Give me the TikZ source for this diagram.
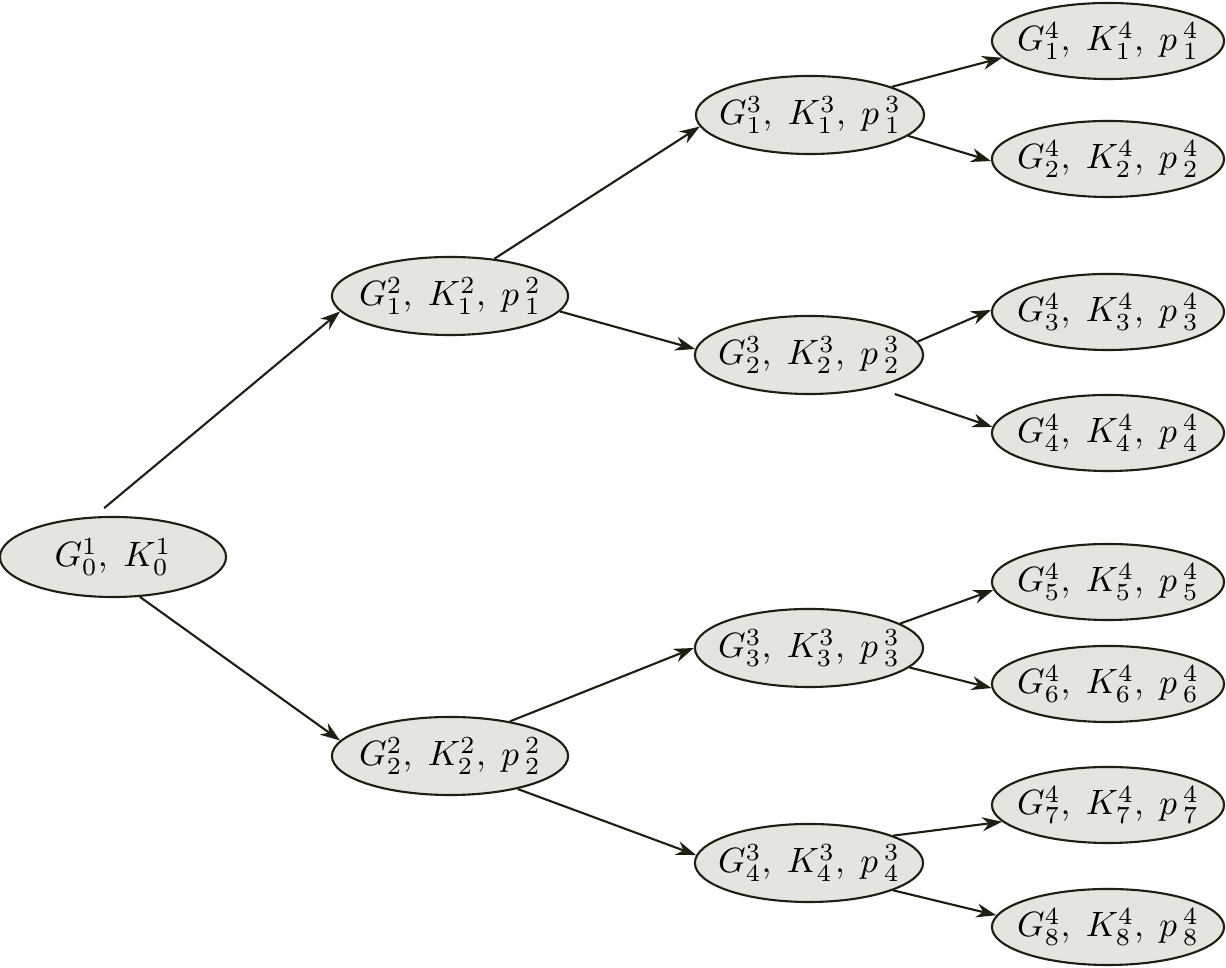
\documentclass[tikz,border=0pt]{standalone}
\usepackage{amsmath}
\usepackage{xcolor}
\usepackage{tikz}
\usetikzlibrary{arrows.meta,shapes.geometric}
\definecolor{Ink}{HTML}{1E1E12}
\definecolor{StateFill}{HTML}{E6E4DE}
\newcommand{\gk}[2]{\makebox[0pt]{$G^{#1}_{#2},\;K^{#1}_{#2}$}}
\newcommand{\gkp}[2]{\makebox[0pt]{$G^{#1}_{#2},\;K^{#1}_{#2},\;p\,^{#1}_{#2}$}}
\tikzset{
  statebox/.style={ellipse,draw=Ink,fill=StateFill,line width=0.6pt,inner sep=0pt,font=\fontsize{10}{12}\selectfont},
  rootstate/.style={statebox,minimum width=2.26cm,minimum height=0.8cm},
  levelone/.style={statebox,minimum width=2.36cm,minimum height=0.78cm},
  leveltwo/.style={statebox,minimum width=2.28cm,minimum height=0.78cm},
  levelthree/.style={statebox,minimum width=2.32cm,minimum height=0.76cm},
  flow/.style={draw=Ink,line width=0.6pt,-{Stealth[length=2mm,width=1.4mm]}}
}

\begin{document}
\begin{tikzpicture}[x=0.01cm,y=-0.01cm]
  \useasboundingbox[fill=white] (0,0) rectangle (1226,968);

  % states
  \node[rootstate] (G0) at (113,557) {\gk{1}{0}};
  \node[levelone] (G21) at (450,296) {\gkp{2}{1}};
  \node[levelone] (G22) at (450,756) {\gkp{2}{2}};
  \node[leveltwo] (G31) at (810,115) {\gkp{3}{1}};
  \node[leveltwo] (G32) at (809,355) {\gkp{3}{2}};
  \node[leveltwo] (G33) at (809,648) {\gkp{3}{3}};
  \node[leveltwo] (G34) at (809,863) {\gkp{3}{4}};
  \node[levelthree] (G41) at (1108,41) {\gkp{4}{1}};
  \node[levelthree] (G42) at (1108,159) {\gkp{4}{2}};
  \node[levelthree] (G43) at (1108,312) {\gkp{4}{3}};
  \node[levelthree] (G44) at (1108,433) {\gkp{4}{4}};
  \node[levelthree] (G45) at (1108,582) {\gkp{4}{5}};
  \node[levelthree] (G46) at (1108,684) {\gkp{4}{6}};
  \node[levelthree] (G47) at (1108,805) {\gkp{4}{7}};
  \node[levelthree] (G48) at (1108,927) {\gkp{4}{8}};

  % branches
  \draw[flow,shorten <=0.13cm] (G0.115) -- (G21.188);
  \draw[flow] (G0.304) -- (G22.172);
  \draw[flow] (G21.40) -- (G31.186);
  \draw[flow] (G21.352) -- (G32.177);
  \draw[flow] (G22.30) -- (G33.180);
  \draw[flow] (G22.334) -- (G34.176);
  \draw[flow] (G31.19) -- (G41.189);
  \draw[flow] (G31.348) -- (G42.181);
  \draw[flow] (G32.7) -- (G43.179);
  \draw[flow,shorten <=0.2cm] (G32.334) -- (G44.177);
  \draw[flow] (G33.15) -- (G45.184);
  \draw[flow] (G33.349) -- (G46.182);
  \draw[flow] (G34.18) -- (G47.189);
  \draw[flow] (G34.342) -- (G48.174);
\end{tikzpicture}
\end{document}
